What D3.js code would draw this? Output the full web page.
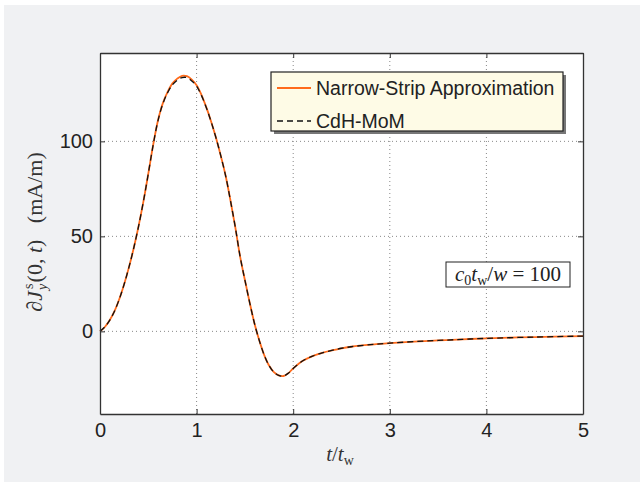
<!DOCTYPE html>
<html><head><meta charset="utf-8">
<script src="https://cdn.jsdelivr.net/npm/d3@7"></script>
<style>body{margin:0;background:#fff}svg{display:block}</style>
</head><body>
<svg id="c" width="640" height="482"></svg>
<script>
const tVals = [0,0.05,0.1,0.15,0.2,0.25,0.3,0.35,0.4,0.45,0.5,0.55,0.6,0.65,0.7,0.75,0.8,0.85,0.9,0.95,1.0,1.05,1.1,1.15,1.2,1.25,1.3,1.35,1.4,1.45,1.5,1.55,1.6,1.65,1.7,1.75,1.8,1.85,1.9,1.95,2.0,2.1,2.2,2.3,2.4,2.5,2.6,2.8,3.0,3.25,3.5,3.75,4.0,4.5,5.0];
const narrowStrip = [0,2.3,5.8,10.6,17,24.8,33.8,44,55.5,68.5,83,98,111,120,126,130.5,133,134.5,134.3,132.5,129.5,124.5,118,110.5,102,92.5,82,69,55,39.5,27,15,4,-5,-12.5,-18,-21.5,-23.2,-23.5,-22,-19.5,-15.5,-13,-11.3,-10,-8.9,-8.1,-7,-6.2,-5.4,-4.8,-4.2,-3.7,-3.0,-2.5];
const cdhMom = [0,2.3,5.8,10.6,17,24.8,33.8,44,55.5,68.5,83,98,110.8,119.7,125.6,129.8,132.2,133.6,133.5,131.8,129,124.2,117.8,110.4,102,92.5,82,69,55,39.5,27,15,4,-5,-12.5,-18,-21.5,-23.2,-23.5,-22,-19.5,-15.5,-13,-11.3,-10,-8.9,-8.1,-7,-6.2,-5.4,-4.8,-4.2,-3.7,-3.0,-2.5];
const xTicks = [0,1,2,3,4,5];
const yTicks = [0,50,100];
const seriesNames = ["Narrow-Strip Approximation","CdH-MoM"];

const svg = d3.select("#c");
svg.append("rect").attr("x",4).attr("y",5).attr("width",636).attr("height",477).attr("fill","#f0f1f3");

const L=100, R=583, T=53, B=414;
const x = d3.scaleLinear().domain([0,5]).range([L,R]);
const y = d3.scaleLinear().domain([-43.5,146.5]).range([B,T]);

svg.append("rect").attr("x",L).attr("y",T).attr("width",R-L).attr("height",B-T).attr("fill","#fff");

// grid
const g = svg.append("g");
g.selectAll(".gx").data(xTicks.slice(1,-1)).join("line")
  .attr("x1",d=>x(d)).attr("x2",d=>x(d)).attr("y1",T).attr("y2",B)
  .attr("stroke","#888").attr("stroke-width",1).attr("stroke-dasharray","1,3");
g.selectAll(".gy").data(yTicks).join("line")
  .attr("y1",d=>y(d)).attr("y2",d=>y(d)).attr("x1",L).attr("x2",R)
  .attr("stroke","#888").attr("stroke-width",1).attr("stroke-dasharray","1,3");

// lines
const line = d3.line().x((d,i)=>x(tVals[i])).y(d=>y(d)).curve(d3.curveCatmullRom.alpha(0.5));
svg.append("path").datum(narrowStrip).attr("d",line).attr("fill","none")
  .attr("stroke","#ff6a1a").attr("stroke-width",1.8);
svg.append("path").datum(cdhMom).attr("d",line).attr("fill","none")
  .attr("stroke","#111").attr("stroke-width",1.3).attr("stroke-dasharray","6,4");

// axes
const fmt = d3.format("d");
const axB = svg.append("g").attr("transform",`translate(0,${B})`)
  .call(d3.axisBottom(x).tickValues(xTicks).tickFormat(fmt).tickSizeInner(-5).tickSizeOuter(0).tickPadding(9));
const axL = svg.append("g").attr("transform",`translate(${L},0)`)
  .call(d3.axisLeft(y).tickValues(yTicks).tickFormat(fmt).tickSizeInner(-5).tickSizeOuter(0).tickPadding(7));
const axT = svg.append("g").attr("transform",`translate(0,${T})`)
  .call(d3.axisTop(x).tickValues(xTicks).tickSizeInner(-5).tickSizeOuter(0).tickFormat(""));
const axR = svg.append("g").attr("transform",`translate(${R},0)`)
  .call(d3.axisRight(y).tickValues(yTicks).tickSizeInner(-5).tickSizeOuter(0).tickFormat(""));
[axB,axL,axT,axR].forEach(a=>{
  a.select(".domain").attr("stroke","#333").attr("stroke-width",1.3);
  a.selectAll(".tick line").attr("stroke","#333").attr("stroke-width",1);
  a.selectAll("text").attr("font-family","'Liberation Sans',Arial,sans-serif").attr("font-size",20).attr("fill","#222");
});
axB.selectAll("text").attr("dy","0.71em");

// axis labels
const serif = "'Liberation Serif','DejaVu Serif',serif";
const xl = svg.append("text").attr("x",340).attr("y",461).attr("text-anchor","middle")
  .attr("font-family",serif).attr("font-size",21).attr("fill","#333");
xl.append("tspan").attr("font-style","italic").text("t");
xl.append("tspan").text("/");
xl.append("tspan").attr("font-style","italic").text("t");
xl.append("tspan").attr("font-size",14).attr("dy",4).text("w");

const yl = svg.append("text").attr("transform","translate(42,232) rotate(-90)").attr("text-anchor","middle")
  .attr("font-family",serif).attr("font-size",22).attr("fill","#333");
yl.append("tspan").text("∂");
yl.append("tspan").attr("font-style","italic").text("J");
yl.append("tspan").attr("font-size",14).attr("font-style","italic").attr("dx",1).attr("dy",5).text("y");
yl.append("tspan").attr("font-size",14).attr("dx",-5).attr("dy",-14).text("s");
yl.append("tspan").attr("dx",1).attr("dy",9).text("(0, ");
yl.append("tspan").attr("font-style","italic").text("t");
yl.append("tspan").text(")\u00a0\u00a0\u00a0(mA/m)");

// legend
const lg = svg.append("g");
lg.append("rect").attr("x",274).attr("y",75).attr("width",292).attr("height",59).attr("fill","#777");
lg.append("rect").attr("x",271).attr("y",72).attr("width",292).attr("height",59)
  .attr("fill","#fefbe6").attr("stroke","#222").attr("stroke-width",1.2);
const legY = [88,121];
lg.append("line").attr("x1",277).attr("x2",311).attr("y1",legY[0]).attr("y2",legY[0])
  .attr("stroke","#ff6a1a").attr("stroke-width",1.8);
lg.append("line").attr("x1",277).attr("x2",311).attr("y1",legY[1]).attr("y2",legY[1])
  .attr("stroke","#111").attr("stroke-width",1.3).attr("stroke-dasharray","6,4");
lg.selectAll(".lt").data(seriesNames).join("text").attr("x",316).attr("y",(d,i)=>legY[i]+7)
  .attr("font-family","'Liberation Sans',Arial,sans-serif").attr("font-size",19.5).attr("fill","#222").text(d=>d);

// annotation
svg.append("rect").attr("x",446).attr("y",262).attr("width",124).attr("height",25)
  .attr("fill","#fff").attr("stroke","#222").attr("stroke-width",1);
const an = svg.append("text").attr("x",508).attr("y",281).attr("text-anchor","middle")
  .attr("font-family",serif).attr("font-size",21).attr("fill","#222");
an.append("tspan").attr("font-style","italic").text("c");
an.append("tspan").attr("font-size",14).attr("dy",4).text("0");
an.append("tspan").attr("font-style","italic").attr("dy",-4).text("t");
an.append("tspan").attr("font-size",14).attr("dy",4).text("w");
an.append("tspan").attr("dy",-4).text("/");
an.append("tspan").attr("font-style","italic").text("w");
an.append("tspan").text(" = 100");
</script>
</body></html>
